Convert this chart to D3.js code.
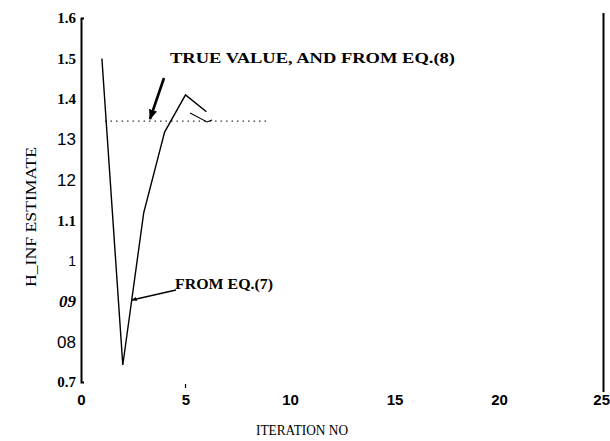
<!DOCTYPE html>
<html lang="en">
<head>
  <meta charset="UTF-8">
  <title>H_INF estimate vs iteration</title>
  <script src="https://d3js.org/d3.v7.min.js"></script>
  <style>
    body { margin: 0; background: #fff; }
    svg { display: block; }
  </style>
</head>
<body>
<div id="chart-container"></div>

<script>
// iteration values and estimates
var iterations = [1, 2, 3, 4, 5, 6];
var eq7Values = [1.50, 0.742, 1.118, 1.318, 1.41, 1.368];

var eq8Iterations = [5.22, 6.03, 6.27];
var eq8Values = [1.365, 1.343, 1.348];

var trueValue = 1.345;
var trueRange = [1.15, 8.95];

var xTicks = [0, 5, 10, 15, 20, 25];
var yTicks = [0.7, 0.8, 0.9, 1.0, 1.1, 1.2, 1.3, 1.4, 1.5, 1.6];
var yTickLabels = ["0.7", "08", "09", "1", "1.1", "12", "13", "1.4", "1.5", "1.6"];

var width = 610, height = 441;

var svg = d3.select("#chart-container")
  .append("svg")
  .attr("width", width)
  .attr("height", height);

svg.append("rect").attr("width", width).attr("height", height).attr("fill", "#fff");

var x = d3.scaleLinear().domain([0, 25]).range([81, 603.5]);
var y = d3.scaleLinear().domain([0.7, 1.6]).range([382, 18]);

function labelOf(d) { return yTickLabels[yTicks.indexOf(d)]; }
function isSerif(lab) { return lab.includes(".") || lab === "09"; }

// y axis
var yAxis = svg.append("g")
  .attr("transform", "translate(" + x(0) + ",0)")
  .call(d3.axisLeft(y)
    .tickValues(yTicks)
    .tickSize(0)
    .tickSizeOuter(-3)
    .tickPadding(5)
    .tickFormat((d, i) => yTickLabels[i]));

yAxis.select(".domain").attr("stroke", "#000").attr("stroke-width", 2);
yAxis.selectAll("text")
  .attr("fill", "#000")
  .style("font-family", d => isSerif(labelOf(d)) ? "'Liberation Serif', serif" : "'Liberation Sans', sans-serif")
  .style("font-weight", d => isSerif(labelOf(d)) ? "bold" : "normal")
  .style("font-style", d => labelOf(d) === "09" ? "italic" : "normal")
  .style("font-size", d => {
    var lab = labelOf(d);
    if (lab === "1") return "14px";
    if (lab === "09") return "17px";
    return isSerif(lab) ? "15px" : "17px";
  });

// x axis labels (no axis line drawn)
var xAxis = svg.append("g")
  .attr("transform", "translate(0,391)")
  .call(d3.axisBottom(x)
    .tickValues(xTicks)
    .tickSize(0)
    .tickPadding(3)
    .tickFormat(d3.format("d")));

xAxis.select(".domain").remove();
xAxis.selectAll("text")
  .attr("fill", "#000")
  .style("font-family", "'Liberation Sans Narrow', 'Liberation Sans', sans-serif")
  .style("font-weight", "bold")
  .style("font-size", "15px");
xAxis.selectAll(".tick").filter(d => d === 25).select("text")
  .attr("text-anchor", "end")
  .attr("x", 6);

// small tick at 5
svg.append("line")
  .attr("x1", x(5)).attr("x2", x(5))
  .attr("y1", 384).attr("y2", 388)
  .attr("stroke", "#000").attr("stroke-width", 1.2);

// right frame line
svg.append("line")
  .attr("x1", x(25)).attr("x2", x(25))
  .attr("y1", 13).attr("y2", 392)
  .attr("stroke", "#000").attr("stroke-width", 2);

// axis titles
svg.append("text")
  .attr("transform", "translate(36,217) rotate(-90)")
  .style("text-anchor", "middle")
  .style("font-family", "'Liberation Serif', serif")
  .style("font-size", "15px")
  .attr("textLength", 140)
  .attr("lengthAdjust", "spacingAndGlyphs")
  .text("H_INF ESTIMATE");

svg.append("text")
  .attr("x", 302)
  .attr("y", 435)
  .style("text-anchor", "middle")
  .style("font-family", "'Liberation Serif', serif")
  .style("font-size", "14px")
  .attr("textLength", 92)
  .attr("lengthAdjust", "spacingAndGlyphs")
  .text("ITERATION NO");

// true value dotted line
svg.append("line")
  .attr("x1", x(trueRange[0])).attr("x2", x(trueRange[1]))
  .attr("y1", y(trueValue)).attr("y2", y(trueValue))
  .attr("stroke", "#333")
  .attr("stroke-width", 1.2)
  .attr("stroke-dasharray", "1.5,4");

var line = d3.line()
  .x(d => x(d[0]))
  .y(d => y(d[1]));

svg.append("path")
  .datum(iterations.map((it, i) => [it, eq7Values[i]]))
  .attr("fill", "none")
  .attr("stroke", "#000")
  .attr("stroke-width", 1.4)
  .attr("d", line);

svg.append("path")
  .datum(eq8Iterations.map((it, i) => [it, eq8Values[i]]))
  .attr("fill", "none")
  .attr("stroke", "#000")
  .attr("stroke-width", 1.1)
  .attr("d", line);

// arrows
var defs = svg.append("defs");
defs.append("marker")
  .attr("id", "arrow")
  .attr("viewBox", "0 0 10 10")
  .attr("refX", 9).attr("refY", 5)
  .attr("markerWidth", 4).attr("markerHeight", 4)
  .attr("orient", "auto")
  .append("path")
  .attr("d", "M0,1 L10,5 L0,9 Z")
  .attr("fill", "#000");

svg.append("line")
  .attr("x1", 164).attr("y1", 78)
  .attr("x2", 150).attr("y2", 119)
  .attr("stroke", "#000").attr("stroke-width", 2.6)
  .attr("marker-end", "url(#arrow)");

svg.append("line")
  .attr("x1", 176).attr("y1", 290)
  .attr("x2", 132).attr("y2", 300)
  .attr("stroke", "#000").attr("stroke-width", 1.3)
  .attr("marker-end", "url(#arrow)");

// annotations
svg.append("text")
  .attr("x", 170).attr("y", 63)
  .style("font-family", "'Liberation Serif', serif")
  .style("font-weight", "bold")
  .style("font-size", "15px")
  .attr("textLength", 285)
  .attr("lengthAdjust", "spacingAndGlyphs")
  .text("TRUE VALUE, AND FROM EQ.(8)");

svg.append("text")
  .attr("x", 175).attr("y", 289)
  .style("font-family", "'Liberation Serif', serif")
  .style("font-weight", "bold")
  .style("font-size", "15px")
  .attr("textLength", 98)
  .attr("lengthAdjust", "spacingAndGlyphs")
  .text("FROM EQ.(7)");
</script>
</body>
</html>
